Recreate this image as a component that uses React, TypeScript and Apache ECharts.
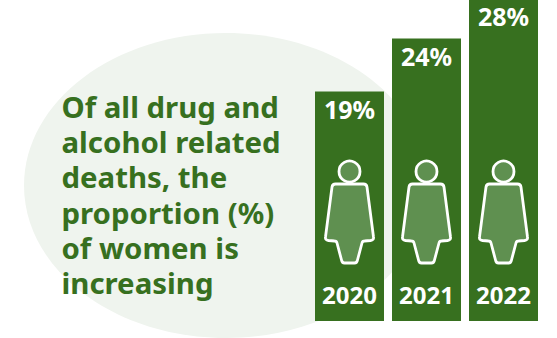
import React, { useEffect, useRef } from "react";
import * as echarts from "echarts";

const years = ["2020", "2021", "2022"];
const womenShare = [19, 24, 28];
// Plinth under each column that carries the year label.
const plinth = [2.64, 2.64, 2.64];
const headline = [
  "Of all drug and",
  "alcohol related",
  "deaths, the",
  "proportion (%)",
  "of women is",
  "increasing",
];

const GREEN = "#37701f";
const FIGURE_FILL = "#5f9050";
const FONT = '"Noto Sans", sans-serif';

// Body outline of the figure, centred on x = 0, running from the shoulders to the feet.
const bodyPath =
  "M-14 0 L14 0 Q17 0 17.5 3 L24 53 Q24.5 56 21 56.5 L15 57 Q13 57 12.5 59 L8 76 Q7.5 79 5 79 L-5 79 Q-7.5 79 -8 76 L-12.5 59 Q-13 57 -15 57 L-21 56.5 Q-24.5 56 -24 53 L-17.5 3 Q-17 0 -14 0 Z";

export default function App() {
  const ref = useRef<HTMLDivElement>(null);

  useEffect(() => {
    const chart = echarts.init(ref.current!, undefined, { renderer: "svg" });
    chart.setOption({
      animation: false,
      backgroundColor: "#ffffff",
      grid: { left: 311, width: 231, top: -4, height: 325, outerBoundsMode: "none" },
      xAxis: {
        type: "category",
        data: years,
        z: 5,
        axisLine: { show: false },
        axisTick: { show: false },
        axisLabel: {
          inside: true,
          margin: 15,
          color: "#ffffff",
          fontFamily: FONT,
          fontWeight: "bold",
          fontSize: 24,
        },
      },
      yAxis: { type: "value", min: 0, max: 30.66, show: false },
      graphic: [
        {
          type: "ellipse",
          z: 0,
          shape: { cx: 226, cy: 185.5, rx: 202, ry: 152.5 },
          style: { fill: "#eff4ee" },
        },
        {
          type: "text",
          z: 10,
          x: 61.5,
          y: 89,
          style: {
            text: headline.join("\n"),
            fill: GREEN,
            font: `bold 29.4px ${FONT}`,
            lineHeight: 35.3,
          },
        },
      ],
      series: [
        {
          type: "bar",
          stack: "column",
          data: plinth,
          barWidth: 69,
          silent: true,
          itemStyle: { color: GREEN },
        },
        {
          type: "bar",
          stack: "column",
          data: womenShare.map((value, i) => ({
            value,
            label: i === 2 ? { offset: [0, 2] } : undefined,
          })),
          barWidth: 69,
          clip: false,
          itemStyle: { color: GREEN },
          label: {
            show: true,
            position: "insideTop",
            distance: 5,
            formatter: "{c}%",
            color: "#ffffff",
            fontFamily: FONT,
            fontWeight: "bold",
            fontSize: 25,
          },
        },
        {
          type: "custom",
          z: 4,
          silent: true,
          data: womenShare.map((_, i) => i),
          encode: { x: 0 },
          renderItem: (_params: any, api: any) => {
            const cx = api.coord([api.value(0), 0])[0];
            const stroke = { fill: FIGURE_FILL, stroke: "#ffffff", lineWidth: 2.8 };
            return {
              type: "group",
              x: cx,
              y: 184,
              children: [
                { type: "circle", shape: { cx: 0, cy: -12.5, r: 10.5 }, style: stroke },
                { type: "path", shape: { pathData: bodyPath, x: -24.5, y: 0, width: 49, height: 79 }, style: stroke },
              ],
            };
          },
        },
      ],
    });
    return () => chart.dispose();
  }, []);

  return <div ref={ref} style={{ position: "absolute", left: 0, top: 0, width: 557, height: 338 }} />;
}
